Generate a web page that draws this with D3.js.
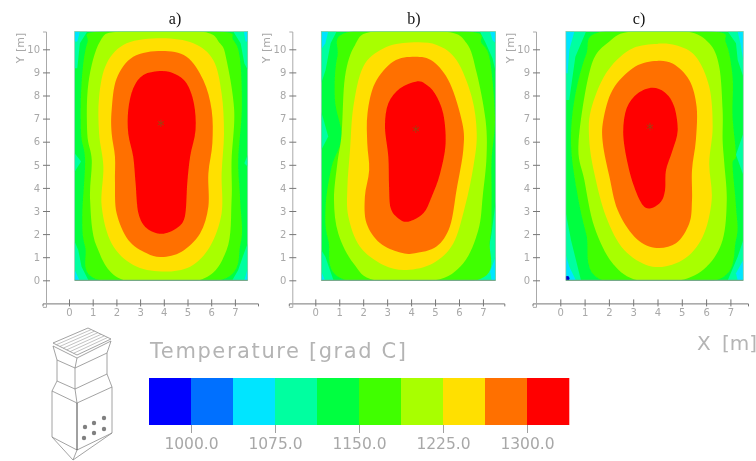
<!DOCTYPE html>
<html>
<head>
<meta charset="utf-8">
<script src="https://cdn.jsdelivr.net/npm/d3@7"></script>
<style>
  body { margin: 0; background: #fff; }
  svg { display: block; }
  text { font-family: "DejaVu Sans", sans-serif; fill: #a8a8a8; }
</style>
</head>
<body>
<div id="chart-container"></div>
<script>
// Legend
const bandColors = ["#0000ff", "#0070ff", "#00e5ff", "#00ffa0", "#00ff40", "#40ff00", "#a8ff00", "#ffe000", "#ff7000", "#ff0000"];
const bandEdges = [962.5, 1000, 1037.5, 1075, 1112.5, 1150, 1187.5, 1225, 1262.5, 1300, 1337.5];
const legendTicks = [1000, 1075, 1150, 1225, 1300];
const xTicks = [0, 1, 2, 3, 4, 5, 6, 7];
const yTicks = [0, 1, 2, 3, 4, 5, 6, 7, 8, 9, 10];

// Contour outlines, [x, y] in metres
// Panel a
const aRed = [[3.91,9.06],[3.14,8.89],[2.71,8.31],[2.50,7.37],[2.50,6.36],[2.71,5.35],[2.81,4.20],[2.93,2.90],[3.28,2.25],[3.91,2.01],[4.54,2.25],[4.89,2.76],[4.99,4.20],[5.11,5.35],[5.34,6.51],[5.27,7.66],[4.96,8.53],[4.47,8.93]];
const aOrange = [[3.91,9.93],[2.71,9.68],[2.01,8.74],[1.80,7.37],[1.80,6.36],[1.94,5.35],[1.94,4.20],[2.01,2.90],[2.50,1.75],[3.28,1.17],[3.91,1.01],[4.75,1.24],[5.53,2.03],[5.88,3.18],[5.88,4.62],[6.05,5.93],[6.02,7.37],[5.67,8.66],[4.96,9.68]];
const aYellow = [[3.91,10.48],[2.43,10.26],[1.59,9.39],[1.27,7.95],[1.27,6.36],[1.45,4.92],[1.38,3.19],[1.80,1.59],[2.71,0.66],[3.91,0.38],[5.11,0.59],[5.95,1.46],[6.44,2.90],[6.44,4.62],[6.54,6.36],[6.44,8.09],[6.09,9.53],[5.25,10.26]];
const aYellowGreen = [[2.18,10.77],[1.31,10.34],[0.82,8.54],[0.77,6.36],[0.96,5.2],[0.89,3.48],[1.17,1.46],[2.32,0],[5.49,0],[6.65,1.31],[6.86,3.48],[6.86,5.2],[6.97,7.37],[6.65,9.53],[6.37,10.26],[5.56,10.77]];
const aLime = [[1.31,10.77],[0.77,10.26],[0.53,8.53],[0.51,6.36],[0.68,5.2],[0.56,2.76],[0.68,1.46],[1.31,0],[6.37,0],[7.24,1.6],[7.22,3.48],[7.14,5.2],[7.29,7.37],[7.22,9.54],[6.93,10.4],[6.30,10.77]];
const aSpring = [
  [[0.24,10.77],[0.77,10.77],[0.46,10.26],[0.35,9.18],[0.24,9.18]],
  [[6.93,10.77],[7.54,10.77],[7.54,9.11],[7.40,9.39],[7.24,10.26]],
  [[0.24,1.67],[0.39,1.31],[0.53,0.59],[0.82,0],[0.24,0]],
  [[7.54,1.6],[7.33,1.02],[7.14,0.45],[6.89,0],[7.54,0]],
  [[0.24,5.5],[0.51,5.14],[0.24,4.7]],
  [[7.54,5.43],[7.40,5.07],[7.54,4.92]]
];
const aCyan = [
  [[0.24,10.77],[0.46,10.77],[0.35,10.34],[0.24,10.34]],
  [[7.54,10.77],[7.38,10.77],[7.45,10.34],[7.54,10.34]],
  [[0.24,0.45],[0.44,0],[0.24,0]],
  [[7.54,0.52],[7.40,0],[7.54,0]]
];

// Panel b
const bRed = [[4.20,8.60],[3.54,8.31],[3.05,7.66],[2.91,6.65],[3.05,5.35],[3.08,4.05],[3.15,3.12],[3.47,2.68],[3.88,2.54],[4.51,2.90],[4.86,3.62],[5.21,4.62],[5.44,5.92],[5.34,7.22],[5.00,8.08],[4.58,8.51]];
const bOrange = [[4.16,9.68],[3.26,9.47],[2.49,8.53],[2.18,7.23],[2.17,5.93],[2.25,4.78],[2.07,3.62],[2.14,2.47],[2.70,1.61],[3.54,1.20],[4.16,1.17],[5.06,1.46],[5.62,2.33],[5.90,3.92],[6.18,5.65],[6.14,6.8],[5.62,8.53],[4.92,9.47]];
const bYellow = [[3.95,10.29],[2.84,10.04],[2.00,9.25],[1.59,7.52],[1.45,5.64],[1.34,4.05],[1.38,2.76],[1.86,1.46],[2.84,0.66],[3.81,0.45],[4.92,0.74],[5.76,1.59],[6.25,3.19],[6.60,4.92],[6.74,6.36],[6.53,7.95],[5.90,9.53],[5.07,10.19]];
const bYellowGreen = [[2.42,10.77],[1.66,10.19],[1.24,8.81],[1.10,6.36],[0.92,5.06],[0.78,3.48],[0.96,2.03],[1.59,0.74],[2.49,0],[4.99,0],[6.18,0.74],[6.81,2.19],[6.99,3.63],[7.15,5.36],[7.11,6.94],[6.74,8.97],[6.32,10.26],[5.41,10.77]];
const bLime = [[1.48,10.77],[0.92,9.68],[0.82,7.8],[1.10,6.21],[0.68,4.9],[0.43,3.19],[0.54,1.75],[1.31,0],[6.74,0],[7.29,1.75],[7.36,3.48],[7.36,5.2],[7.50,7.08],[7.29,9.54],[6.94,10.26],[6.39,10.77]];
const bSpring = [
  [[0.25,10.77],[0.89,10.77],[0.64,10.26],[0.43,9.1],[0.25,8.53]],
  [[0.25,7.3],[0.54,6.22],[0.25,5.64]],
  [[0.25,1.31],[0.42,1.02],[0.61,0.45],[0.76,0],[0.25,0]],
  [[6.87,10.77],[7.53,10.77],[7.53,9.03],[7.4,9.6],[7.1,10.3]],
  [[7.53,3.41],[7.36,2.03],[7.15,0.88],[6.74,0],[7.53,0]]
];
const bCyan = [
  [[0.25,10.77],[0.54,10.77],[0.42,10.26],[0.25,10.0]],
  [[0.25,0.38],[0.4,0],[0.25,0]],
  [[7.29,10.77],[7.53,10.77],[7.53,10.26],[7.4,10.4]],
  [[7.53,1.02],[7.3,0.38],[7.36,0],[7.53,0]]
];

// Panel c
const cRed = [[3.80,8.34],[3.18,8.09],[2.73,7.45],[2.59,6.36],[2.77,5.07],[3.04,4.05],[3.39,3.26],[3.73,3.12],[4.14,3.40],[4.31,3.90],[4.35,4.77],[4.62,5.63],[4.83,6.49],[4.69,7.51],[4.35,8.09]];
const cOrange = [[3.87,9.49],[2.98,9.18],[2.15,8.24],[1.77,6.94],[1.75,5.93],[2.02,4.49],[2.36,3.04],[3.05,1.89],[3.87,1.41],[4.76,1.60],[5.31,2.47],[5.42,3.48],[5.42,4.78],[5.58,6.07],[5.61,7.51],[5.31,8.66],[4.62,9.38]];
const cYellow = [[3.87,10.23],[2.84,9.97],[1.88,8.96],[1.26,7.37],[1.19,6.08],[1.40,4.63],[1.88,2.76],[2.63,1.31],[3.80,0.59],[5.03,0.88],[5.86,1.89],[6.23,3.48],[6.13,5.06],[6.27,6.65],[6.13,8.38],[5.58,9.68],[4.76,10.17]];
const cYellowGreen = [[2.91,10.77],[2.02,10.34],[1.26,9.25],[0.75,5.93],[0.99,4.34],[1.40,2.32],[2.15,0.74],[3.18,0],[4.92,0],[6.02,0.59],[6.68,1.75],[6.85,3.48],[6.75,5.06],[6.68,6.07],[6.68,7.37],[6.54,9.25],[6.13,10.26],[5.18,10.77]];
const cLime = [[1.74,10.77],[1.06,9.75],[0.58,7.8],[0.44,5.93],[0.65,4.05],[1.06,2.04],[1.74,0],[6.41,0],[7.23,1.75],[7.23,3.19],[7.09,5.0],[7.23,5.43],[7.09,7.08],[7.09,8.81],[6.82,10.26],[6.27,10.77]];
const cSpring = [
  [[0.23,10.77],[1.06,10.77],[0.62,9.68],[0.37,7.8],[0.23,7.8]],
  [[0.23,2.9],[0.44,1.75],[0.85,0],[0.23,0]],
  [[6.89,10.77],[7.53,10.77],[7.53,8.81],[7.30,9.54],[7.23,10.26]],
  [[7.53,6.36],[7.23,5.43],[7.53,4.56]],
  [[7.53,1.75],[7.30,1.02],[6.89,0],[7.53,0]]
];
const cCyan = [
  [[0.23,10.77],[0.58,10.77],[0.37,9.97],[0.30,8.96],[0.23,8.96]],
  [[0.23,1.1],[0.37,0.59],[0.64,0],[0.23,0]],
  [[7.3,10.77],[7.53,10.77],[7.53,9.54],[7.41,10.26]],
  [[7.53,0.88],[7.23,0.3],[7.3,0],[7.53,0]]
];

const panels = [
  { title: "a)", x0: 69, unit: 23.7, axisX: 46, xMin: 0.24, xMax: 7.54, centre: [3.88, 6.8],
    titleX: 175, spring: aSpring, cyan: aCyan, bands: [aLime, aYellowGreen, aYellow, aOrange, aRed] },
  { title: "b)", x0: 315.3, unit: 23.95, axisX: 292.3, xMin: 0.25, xMax: 7.53, centre: [4.2, 6.54],
    titleX: 414, spring: bSpring, cyan: bCyan, bands: [bLime, bYellowGreen, bYellow, bOrange, bRed] },
  { title: "c)", x0: 560.3, unit: 24.3, axisX: 536, xMin: 0.23, xMax: 7.53, centre: [3.69, 6.65],
    titleX: 639, spring: cSpring, cyan: cCyan, bands: [cLime, cYellowGreen, cYellow, cOrange, cRed], cold: [0.28, 0.08] }
];

const width = 756, height = 461;

const svg = d3.select("#chart-container")
  .append("svg")
  .attr("width", width)
  .attr("height", height);

// the reference is a soft scan
const defs = svg.append("defs");
defs.append("filter").attr("id", "soft")
  .attr("x", "-5%").attr("y", "-5%").attr("width", "110%").attr("height", "110%")
  .append("feGaussianBlur").attr("stdDeviation", 0.7);

const root = svg.append("g").attr("filter", "url(#soft)");

const y = d3.scaleLinear().domain([0, 10]).range([280.3, 49.3]);

panels.forEach((p, i) => {
  const x = d3.scaleLinear().domain([0, 7]).range([p.x0, p.x0 + 7 * p.unit]);
  const g = root.append("g");

  const smooth = d3.line().x(d => x(d[0])).y(d => y(d[1])).curve(d3.curveCatmullRomClosed.alpha(0));
  const straight = d3.line().x(d => x(d[0])).y(d => y(d[1])).curve(d3.curveLinearClosed);

  const clipId = "plot" + i;
  defs.append("clipPath").attr("id", clipId)
    .append("rect")
    .attr("x", x(p.xMin)).attr("y", y(10.77))
    .attr("width", x(p.xMax) - x(p.xMin))
    .attr("height", y(0) - y(10.77));

  const field = g.append("g").attr("clip-path", `url(#${clipId})`);

  field.append("rect")
    .attr("x", x(p.xMin)).attr("y", y(10.77))
    .attr("width", x(p.xMax) - x(p.xMin))
    .attr("height", y(0) - y(10.77))
    .attr("fill", bandColors[4]);

  field.selectAll("path.spring").data(p.spring).join("path")
    .attr("class", "spring").attr("fill", bandColors[3]).attr("d", straight);
  field.selectAll("path.cyan").data(p.cyan).join("path")
    .attr("class", "cyan").attr("fill", bandColors[2]).attr("d", straight);
  field.selectAll("path.band").data(p.bands).join("path")
    .attr("class", "band")
    .attr("fill", (d, j) => bandColors[5 + j])
    .attr("d", smooth);

  if (p.cold) {
    field.append("circle")
      .attr("cx", x(p.cold[0])).attr("cy", y(p.cold[1])).attr("r", 2.4)
      .attr("fill", "#0000c8");
  }

  // frame
  g.append("rect")
    .attr("x", x(p.xMin)).attr("y", y(10.77))
    .attr("width", x(p.xMax) - x(p.xMin))
    .attr("height", y(0) - y(10.77))
    .attr("fill", "none").attr("stroke", "#7fc8a8").attr("stroke-width", 0.7);
  g.append("line")
    .attr("x1", x(p.xMin)).attr("x2", x(p.xMax))
    .attr("y1", y(0)).attr("y2", y(0))
    .attr("stroke", "#6f9f80").attr("stroke-width", 1);

  // maximum marker
  g.append("path")
    .attr("transform", `translate(${x(p.centre[0])},${y(p.centre[1])})`)
    .attr("d", d3.symbol().type(d3.symbolAsterisk || d3.symbolTimes).size(36)())
    .attr("fill", "none").attr("stroke", "#a04010").attr("stroke-width", 1);

  // axes
  const yAxisX = p.axisX;
  const xAxisY = y(-1);
  const xLow = x.invert(yAxisX - 3.5), xHigh = x.invert(yAxisX + 212);
  const xAxisScale = x.copy().domain([xLow, xHigh]).range([x(xLow), x(xHigh)]);
  const yAxisScale = y.copy().domain([-1.15, 10.77]).range([y(-1.15), y(10.77)]);

  const xAxis = g.append("g")
    .attr("transform", `translate(0,${xAxisY})`)
    .call(d3.axisBottom(xAxisScale).tickValues(xTicks).tickSizeOuter(0).tickSize(3).tickPadding(3));
  xAxis.selectAll(".tick line").attr("y1", -4).attr("stroke", "#777");
  xAxis.select(".domain").attr("stroke", "#777");
  xAxis.selectAll("text").style("font-size", "10px").attr("fill", "#a0a0a0");

  const yAxis = g.append("g")
    .attr("transform", `translate(${yAxisX},0)`)
    .call(d3.axisLeft(yAxisScale).tickValues(yTicks).tickSizeOuter(0).tickSize(3).tickPadding(3));
  yAxis.selectAll(".tick line").attr("x2", 4).attr("x1", -3).attr("stroke", "#777");
  yAxis.select(".domain").attr("stroke", "#aaa");
  yAxis.selectAll("text").style("font-size", "10px").attr("fill", "#a0a0a0");

  g.append("text")
    .attr("transform", `translate(${yAxisX - 22},48) rotate(-90)`)
    .style("text-anchor", "middle")
    .style("font-size", "11px")
    .style("word-spacing", "1px")
    .text("Y [m]");

  g.append("text")
    .attr("x", p.titleX).attr("y", 24)
    .style("text-anchor", "middle")
    .style("font-family", "'Liberation Serif', serif")
    .style("font-size", "16px")
    .style("fill", "#111")
    .text(p.title);
});

// X axis name, only once at the right
root.append("text")
  .attr("x", 697).attr("y", 350)
  .style("font-size", "20px")
  .style("word-spacing", "5px")
  .style("fill", "#b4b4b4")
  .text("X [m]");

// Colour legend
const legendX = d3.scaleLinear().domain([1000, 1300]).range([191, 527]);
const legend = root.append("g");

legend.selectAll("rect")
  .data(bandColors)
  .join("rect")
  .attr("x", (d, i) => legendX(bandEdges[i]))
  .attr("y", 378)
  .attr("width", (d, i) => legendX(bandEdges[i + 1]) - legendX(bandEdges[i]) + 0.3)
  .attr("height", 47)
  .attr("fill", d => d);

const legendAxis = legend.append("g")
  .attr("transform", "translate(0,425)")
  .call(d3.axisBottom(legendX).tickValues(legendTicks).tickFormat(d3.format(".1f")).tickSize(8).tickPadding(5));
legendAxis.select(".domain").remove();
legendAxis.selectAll(".tick line").attr("stroke", "#a0a0a0");
legendAxis.selectAll("text").style("font-size", "15.5px").attr("fill", "#b0b0b0");

root.append("text")
  .attr("x", 150).attr("y", 358)
  .style("font-size", "21px")
  .style("letter-spacing", "1.6px")
  .style("fill", "#b4b4b4")
  .text("Temperature [grad C]");

// Furnace sketch, page pixels relative to its own corner
const furnaceLines = [
  [[13,18],[48,3],[71,14],[37,30],[13,18]],
  [[13,21],[37,33],[71,16]],
  [[13,21],[17,35],[35,43],[67,28],[71,16]],
  [[37,33],[35,43]],
  [[17,35],[17,56],[35,64],[67,49],[67,28]],
  [[35,43],[35,64]],
  [[17,56],[12,66],[37,78],[72,62],[67,49]],
  [[35,64],[37,78]],
  [[12,66],[12,112],[37,125],[72,108],[72,62]],
  [[12,112],[33,135],[72,108]],
  [[33,135],[37,125]]
];
const furnaceHoles = [[45,102],[54,98],[64,93],[44,113],[54,108],[64,104]];

const furnace = root.append("g").attr("transform", "translate(40,325)");
const furnacePath = d3.line();

furnace.selectAll("path.wall").data(furnaceLines).join("path")
  .attr("class", "wall").attr("fill", "none")
  .attr("stroke", "#8c8c8c").attr("stroke-width", 0.8)
  .attr("d", furnacePath);

// dark front edge of the lower box
furnace.append("path")
  .attr("d", furnacePath([[37,78],[37,125]]))
  .attr("stroke", "#444").attr("stroke-width", 1).attr("fill", "none");

// slats on the lid
d3.range(1, 7).forEach(k => {
  const t = k / 7;
  furnace.append("path")
    .attr("d", furnacePath([[13 + 24 * t, 18 + 12 * t], [48 + 23 * t, 3 + 11 * t]]))
    .attr("stroke", "#999").attr("stroke-width", 0.6).attr("fill", "none");
});

furnace.selectAll("circle").data(furnaceHoles).join("circle")
  .attr("cx", d => d[0]).attr("cy", d => d[1]).attr("r", 2.2)
  .attr("fill", "#808080");
</script>
</body>
</html>
